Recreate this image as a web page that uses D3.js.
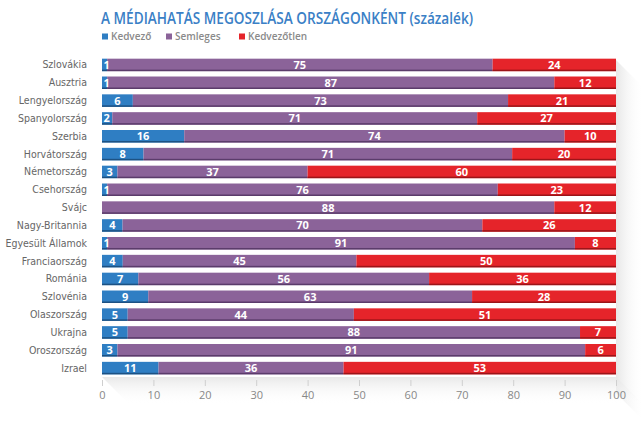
<!DOCTYPE html>
<html>
<head>
<meta charset="utf-8">
<script src="https://cdn.jsdelivr.net/npm/d3@7"></script>
<style>
  body { margin: 0; background: #fff; }
  svg { display: block; }
</style>
</head>
<body>
<div id="chart"></div>
<script>
// adatok
var orszagok = ['Szlovákia', 'Ausztria', 'Lengyelország', 'Spanyolország', 'Szerbia', 'Horvátország',
  'Németország', 'Csehország', 'Svájc', 'Nagy-Britannia', 'Egyesült Államok', 'Franciaország',
  'Románia', 'Szlovénia', 'Olaszország', 'Ukrajna', 'Oroszország', 'Izrael'];
var kedvezo    = [1, 1, 6, 2, 16, 8, 3, 1, 0, 4, 1, 4, 7, 9, 5, 5, 3, 11];
var semleges   = [75, 87, 73, 71, 74, 71, 37, 76, 88, 70, 91, 45, 56, 63, 44, 88, 91, 36];
var kedvezotlen = [24, 12, 21, 27, 10, 20, 60, 23, 12, 26, 8, 50, 36, 28, 51, 7, 6, 53];
var sorozatok = ['Kedvező', 'Semleges', 'Kedvezőtlen'];
var tickek = [0, 10, 20, 30, 40, 50, 60, 70, 80, 90, 100];

var width = 644, height = 421;
var colors = ['#2f7ec3', '#8b6399', '#e5242a'];
var darker = ['#1d5283', '#5b3c6b', '#9c1519'];

var rows = orszagok.map((o, i) => ({ orszag: o, 'Kedvező': kedvezo[i], 'Semleges': semleges[i], 'Kedvezőtlen': kedvezotlen[i] }));

var svg = d3.select('#chart').append('svg')
  .attr('width', width).attr('height', height);

var x = d3.scaleLinear().domain([0, 1]).range([102, 616]);
var y = d3.scaleBand().domain(orszagok).range([56, 377]).paddingInner(0.3).paddingOuter(0.15);

// árnyék a háttérben
var defs = svg.append('defs');
var grad = defs.append('linearGradient').attr('id', 'arny')
  .attr('x1', 0).attr('y1', 0).attr('x2', 1).attr('y2', 0);
grad.append('stop').attr('offset', 0).attr('stop-color', '#e4e4e4').attr('stop-opacity', 0.9);
grad.append('stop').attr('offset', 1).attr('stop-color', '#ffffff').attr('stop-opacity', 0);
svg.append('path')
  .attr('d', 'M616,60 L644,88 L644,421 L616,393 Z')
  .attr('fill', 'url(#arny)');
var grad2 = defs.append('linearGradient').attr('id', 'arny2')
  .attr('x1', 0).attr('y1', 0).attr('x2', 0).attr('y2', 1);
grad2.append('stop').attr('offset', 0).attr('stop-color', '#e6e6e6').attr('stop-opacity', 0.9);
grad2.append('stop').attr('offset', 1).attr('stop-color', '#ffffff').attr('stop-opacity', 0);
svg.append('path')
  .attr('d', 'M102,377 L616,377 L644,405 L130,405 Z')
  .attr('fill', 'url(#arny2)');

var stack = d3.stack().keys(sorozatok).offset(d3.stackOffsetExpand);
var series = stack(rows);

var g = svg.append('g');
series.forEach((s, si) => {
  var sg = g.append('g');
  sg.selectAll('rect.main')
    .data(s.filter(d => d[1] > d[0]))
    .enter().append('rect')
    .attr('x', d => x(d[0]))
    .attr('y', d => y(d.data.orszag))
    .attr('width', d => x(d[1]) - x(d[0]))
    .attr('height', y.bandwidth())
    .attr('fill', colors[si]);
  // sötétebb alsó szél
  sg.selectAll('rect.edge')
    .data(s.filter(d => d[1] > d[0]))
    .enter().append('rect')
    .attr('x', d => x(d[0]))
    .attr('y', d => y(d.data.orszag) + y.bandwidth() - 1.5)
    .attr('width', d => x(d[1]) - x(d[0]))
    .attr('height', 1.5)
    .attr('fill', darker[si]);
});

// értékek a sávokon (a téglalapok után, hogy ne takarja semmi)
var tg = svg.append('g');
series.forEach(s => {
  tg.append('g').selectAll('text')
    .data(s.filter(d => d.data[s.key] > 0))
    .enter().append('text')
    .attr('x', d => {
      var w = x(d[1]) - x(d[0]);
      return w < 14 ? x(d[0]) + 1.5 : (x(d[0]) + x(d[1])) / 2;
    })
    .attr('text-anchor', d => (x(d[1]) - x(d[0]) < 14 ? 'start' : 'middle'))
    .attr('y', d => y(d.data.orszag) + y.bandwidth() / 2 + 4)
    .attr('fill', '#fff')
    .style('font', 'bold 11px "Open Sans", sans-serif')
    .text(d => d.data[s.key]);
});

// országnevek
svg.append('g').selectAll('text')
  .data(orszagok)
  .enter().append('text')
  .attr('x', 87)
  .attr('y', d => y(d) + y.bandwidth() / 2 + 3.5)
  .attr('text-anchor', 'end')
  .attr('fill', '#666')
  .style('font', '10.5px "Liberation Sans Narrow", "DejaVu Sans Condensed", sans-serif')
  .text(d => d);

// tengely
var xAxis = d3.axisBottom(x)
  .tickValues(tickek.map(t => t / 100))
  .tickFormat(d => Math.round(d * 100))
  .tickSize(6).tickSizeOuter(0);
var ax = svg.append('g').attr('transform', 'translate(0,380)').call(xAxis);
ax.select('.domain').remove();
ax.selectAll('line').attr('stroke', '#cfcfcf');
ax.selectAll('text').attr('fill', '#888').attr('dy', '0.9em')
  .style('font', '11px "Open Sans", sans-serif');

// cím
svg.append('text')
  .attr('x', 101).attr('y', 24)
  .attr('fill', '#3a80c6')
  .attr('textLength', 372)
  .attr('lengthAdjust', 'spacingAndGlyphs')
  .style('font', '600 16px "Open Sans", sans-serif')
  .text('A MÉDIAHATÁS MEGOSZLÁSA ORSZÁGONKÉNT (százalék)');

// jelmagyarázat
var leg = svg.append('g').attr('transform', 'translate(102,40)');
var lx = [0, 64, 137];
sorozatok.forEach((s, i) => {
  leg.append('rect').attr('x', lx[i]).attr('y', -6.5).attr('width', 6).attr('height', 6).attr('fill', colors[i]);
  leg.append('text').attr('x', lx[i] + 9).attr('y', 0)
    .attr('fill', '#8a8a8a')
    .style('font', '600 10px "Open Sans", sans-serif')
    .text(s);
});
</script>
</body>
</html>
